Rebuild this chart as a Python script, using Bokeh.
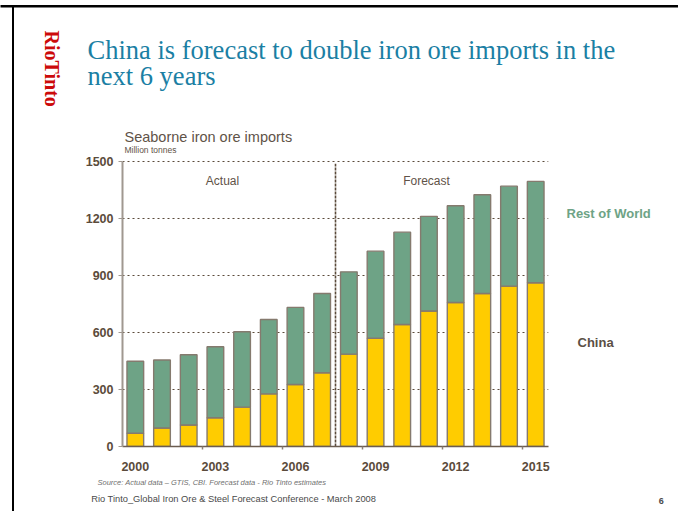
import math
from bokeh.plotting import figure
from bokeh.models import Range1d, FixedTicker
from bokeh.core.properties import value
from bokeh.embed import file_html
from bokeh.resources import INLINE

# ---------------- data ----------------
years = [str(y) for y in range(2000, 2016)]
china = [70, 97, 113, 151, 207, 277, 326, 388, 486, 570, 642, 713, 758, 805, 844, 862]
rest_of_world = [379, 358, 370, 374, 397, 391, 406, 417, 433, 458, 486, 498, 509, 520, 526, 533]
y_ticks = [0, 300, 600, 900, 1200, 1500]
x_tick_years = ["2000", "2003", "2006", "2009", "2012", "2015"]
forecast_start = "2008"

# ---------------- layout ----------------
W, H = 678, 511
FL, FR, FT, FB = 122, 548, 160, 446
X0, X1, Y0, Y1 = -0.48, 15.48, 0, 1505

def dx(px):  # page pixel -> data x
    return X0 + (px - FL) / (FR - FL) * (X1 - X0)

def dy(py):  # page pixel -> data y
    return Y1 - (py - FT) / (FB - FT) * (Y1 - Y0)

p = figure(width=W, height=H, output_backend="svg", toolbar_location=None,
           x_range=Range1d(X0, X1), y_range=Range1d(Y0, Y1),
           min_border_left=FL, min_border_right=W - FR,
           min_border_top=FT, min_border_bottom=H - FB)
p.outline_line_color = None
p.background_fill_color = "white"
p.border_fill_color = "white"

idx = list(range(len(years)))
totals = [c + r for c, r in zip(china, rest_of_world)]

bar_line = "#857a6e"
p.vbar(x=idx, width=0.625, bottom=0, top=china, fill_color="#ffcc00",
       line_color=bar_line, line_width=1.4)
p.vbar(x=idx, width=0.625, bottom=china, top=totals, fill_color="#6ea386",
       line_color=bar_line, line_width=1.4)

# divider between actual and forecast
div_x = years.index(forecast_start) - 0.5
p.segment(x0=[div_x], y0=[0], x1=[div_x], y1=[1488], line_color="#5a4a3a",
          line_width=1.6, line_dash="3 1")

# axes
p.xgrid.visible = False
p.ygrid.grid_line_color = "#5a4a3a"
p.ygrid.grid_line_dash = "2 3"
p.ygrid.grid_line_width = 1
p.ygrid.ticker = FixedTicker(ticks=y_ticks)

xt = [years.index(y) for y in x_tick_years]
p.xaxis.ticker = FixedTicker(ticks=xt, minor_ticks=[t + 2.5 for t in xt[:-1]])
p.xaxis.major_label_overrides = {i: years[i] for i in xt}
p.xaxis.major_tick_out = 0
p.xaxis.major_tick_in = 0
p.xaxis.minor_tick_out = 3
p.xaxis.minor_tick_in = 0
p.xaxis.minor_tick_line_color = "#8a8078"
p.xaxis.minor_tick_line_width = 1.5
p.xaxis.axis_line_color = "#6b5d50"
p.xaxis.axis_line_width = 1.5
p.xaxis.major_label_standoff = 12

p.yaxis.ticker = FixedTicker(ticks=y_ticks)
p.yaxis.major_tick_out = 4
p.yaxis.major_tick_in = 0
p.yaxis.minor_tick_out = 0
p.yaxis.minor_tick_in = 0
p.yaxis.major_tick_line_color = "#a09890"
p.yaxis.axis_line_color = "#a09890"
p.yaxis.axis_line_width = 2
p.yaxis.major_label_standoff = 5
p.yaxis.bounds = (0, 1500)

for ax in (p.xaxis, p.yaxis):
    ax.major_label_text_font = "Liberation Sans"
    ax.major_label_text_font_style = "bold"
    ax.major_label_text_font_size = "12.5px"
    ax.major_label_text_color = "#5b4b3b"

# ---------------- border of slide ----------------
p.quad(left=[dx(0), dx(11.5)], right=[dx(678), dx(13.5)],
       top=[dy(4.5), dy(4.5)], bottom=[dy(7), dy(515)],
       fill_color="black", line_color=None, level="overlay")

# ---------------- texts ----------------
def lab(text, x, y, size, color, font="Liberation Sans", style="normal",
        align="left", baseline="middle", angle=0.0):
    p.text(x=[dx(x)], y=[dy(y)], text=[text], text_font=value(font),
           text_font_size=value(size), text_color=color,
           text_font_style=style, text_align=align,
           text_baseline=baseline, angle=angle, level="overlay")

lab("RioTinto", 51, 30, "20px", "#cc0a0a", font="Liberation Serif", style="bold",
    angle=-math.pi / 2)
lab("China is forecast to double iron ore imports in the", 87, 49.3, "26.5px",
    "#1b7fa4", font="Liberation Serif", baseline="alphabetic")
lab("next 6 years", 87, 75, "26.5px", "#1b7fa4", font="Liberation Serif",
    baseline="alphabetic")

lab("Seaborne iron ore imports", 124, 136, "14.5px", "#5f5348", baseline="alphabetic")
lab("Million tonnes", 124, 149, "8.5px", "#5f5348", baseline="alphabetic")
lab("Actual", 222, 180.7, "12px", "#5f5348", align="center")
lab("Forecast", 426, 180.3, "12px", "#5f5348", align="center")
lab("Rest of World", 566, 213.3, "13px", "#6ea386", style="bold")
lab("China", 577, 341.7, "13px", "#5b4f45", style="bold")
lab("Source: Actual data \u2013 GTIS, CBI. Forecast data - Rio Tinto estimates",
    97, 481.7, "7.5px", "#707070", style="italic")
lab("Rio Tinto_Global Iron Ore & Steel Forecast Conference - March 2008",
    90.7, 498.7, "9.3px", "#4a4a4a")
lab("6", 660.7, 500, "9px", "#4a4a4a", style="bold", align="center")

open("out.html", "w").write(file_html(p, INLINE))
